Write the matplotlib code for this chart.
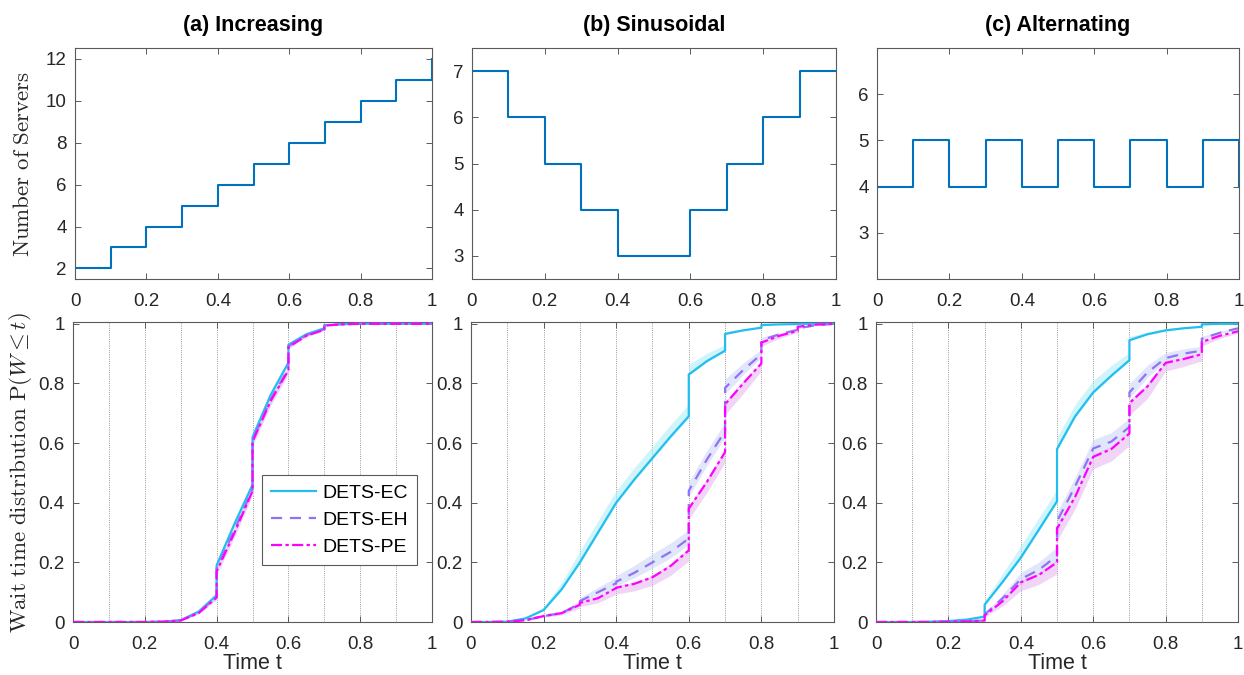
import numpy as np
import matplotlib
matplotlib.use("Agg")
import matplotlib.pyplot as plt
from matplotlib.ticker import FuncFormatter

plt.rcParams['font.family'] = ['Liberation Sans', 'DejaVu Sans']
plt.rcParams['mathtext.fontset'] = 'cm'

# server schedules (stairs, value held until next breakpoint)
stair_t = [0, 0.1, 0.2, 0.3, 0.4, 0.5, 0.6, 0.7, 0.8, 0.9, 1.0]
servers_inc = [2, 3, 4, 5, 6, 7, 8, 9, 10, 11, 12]
servers_sin = [7, 6, 5, 4, 3, 3, 4, 5, 6, 7, 7]
servers_alt = [4, 5, 4, 5, 4, 5, 4, 5, 4, 5, 4]

# time grid for the wait-time CDFs (repeated times = jump points)
t_grid = [0, .05, .1, .1, .15, .2, .2, .25, .3, .3, .35, .4, .4, .45, .5,
          .5, .55, .6, .6, .65, .7, .7, .75, .8, .8, .85, .9, .9, .95, 1.0]

# (a) Increasing
inc_ec = [0, 0, 0, 0, 0, 0, 0, 0.001, 0.006, 0.006, 0.035, 0.09, 0.19, 0.33, 0.46,
          0.62, 0.76, 0.87, 0.93, 0.965, 0.985, 0.995, 0.999, 1, 1, 1, 1, 1, 1, 1]
inc_eh = [0, 0, 0, 0, 0, 0, 0, 0.001, 0.005, 0.005, 0.032, 0.085, 0.18, 0.31, 0.445,
          0.61, 0.745, 0.85, 0.925, 0.962, 0.982, 0.995, 0.999, 1, 1, 1, 1, 1, 1, 1]
inc_pe = [0, 0, 0, 0, 0, 0, 0, 0.001, 0.005, 0.005, 0.03, 0.082, 0.17, 0.30, 0.44,
          0.605, 0.74, 0.845, 0.922, 0.96, 0.98, 0.994, 0.998, 1, 1, 1, 1, 1, 1, 1]

# (b) Sinusoidal
sin_ec = [0, 0, 0.001, 0.001, 0.012, 0.04, 0.04, 0.11, 0.2, 0.2, 0.3, 0.4, 0.4, 0.478, 0.55,
          0.55, 0.622, 0.69, 0.83, 0.875, 0.91, 0.966, 0.978, 0.987, 0.996, 0.998, 0.999, 1, 1, 1]
sin_eh = [0, 0, 0.001, 0.001, 0.006, 0.02, 0.02, 0.03, 0.062, 0.07, 0.1, 0.13, 0.135, 0.165, 0.2,
          0.2, 0.235, 0.28, 0.44, 0.545, 0.64, 0.785, 0.845, 0.898, 0.945, 0.965, 0.98, 0.985, 0.995, 1.0]
sin_pe = [0, 0, 0.001, 0.001, 0.006, 0.02, 0.02, 0.03, 0.058, 0.064, 0.08, 0.114, 0.115, 0.128, 0.15,
          0.15, 0.188, 0.24, 0.38, 0.47, 0.57, 0.73, 0.80, 0.867, 0.937, 0.96, 0.976, 0.99, 0.997, 1.0]

# (c) Alternating
alt_ec = [0, 0, 0, 0, 0.001, 0.003, 0.003, 0.008, 0.018, 0.058, 0.135, 0.216, 0.216, 0.31, 0.405,
          0.58, 0.69, 0.77, 0.77, 0.826, 0.878, 0.945, 0.965, 0.978, 0.978, 0.985, 0.99, 0.998, 1, 1]
alt_eh = [0, 0, 0, 0, 0, 0.001, 0.001, 0.002, 0.005, 0.025, 0.08, 0.144, 0.144, 0.175, 0.222,
          0.338, 0.455, 0.582, 0.582, 0.605, 0.654, 0.77, 0.837, 0.885, 0.885, 0.9, 0.91, 0.95, 0.97, 0.985]
alt_pe = [0, 0, 0, 0, 0, 0.001, 0.001, 0.002, 0.005, 0.022, 0.07, 0.133, 0.133, 0.158, 0.2,
          0.313, 0.42, 0.554, 0.554, 0.58, 0.632, 0.734, 0.79, 0.869, 0.869, 0.882, 0.898, 0.939, 0.96, 0.975]

# shaded band extent (below, above) for each method, per panel
bands = {
    'inc': [(0.01, 0.015), (0.012, 0.012), (0.015, 0.008)],
    'sin': [(0.005, 0.04), (0.02, 0.03), (0.035, 0.01)],
    'alt': [(0.005, 0.04), (0.02, 0.03), (0.04, 0.01)],
}

titles = ['(a) Increasing', '(b) Sinusoidal', '(c) Alternating']
methods = ['DETS-EC', 'DETS-EH', 'DETS-PE']
line_colors = ['#22BEF0', '#9470F5', '#FF00FF']
band_colors = ['#A8EEF8', '#C8D4F8', '#E4B4F0']
styles = ['-', (0, (5, 3.5)), (0, (5, 1.5, 1.5, 1.5))]

frame = '#5a5a5a'
txt = '#262626'
fmt = FuncFormatter(lambda v, p: '%g' % round(v, 3))

fig = plt.figure(figsize=(12.44, 6.75), dpi=100)
top_pos = [[0.0603, 0.5867, 0.287, 0.342],
           [0.3794, 0.5867, 0.2926, 0.342],
           [0.7050, 0.5867, 0.2910, 0.342]]
bot_pos = [[0.0587, 0.0785, 0.2886, 0.444],
           [0.3786, 0.0785, 0.2918, 0.444],
           [0.7042, 0.0785, 0.2910, 0.444]]


def style_axes(ax):
    for s in ax.spines.values():
        s.set_color(frame)
        s.set_linewidth(0.8)
    ax.tick_params(direction='in', length=4, width=0.7, color=frame,
                   labelsize=13.5, labelcolor=txt, top=True, right=True)
    ax.tick_params(axis='x', pad=10)
    ax.tick_params(axis='y', pad=6)
    ax.xaxis.set_major_formatter(fmt)
    ax.yaxis.set_major_formatter(fmt)


schedules = [servers_inc, servers_sin, servers_alt]
ylims = [(1.5, 12.5), (2.5, 7.5), (2, 7)]
yticks = [[2, 4, 6, 8, 10, 12], [3, 4, 5, 6, 7], [3, 4, 5, 6]]

for i in range(3):
    ax = fig.add_axes(top_pos[i])
    ax.plot(stair_t, schedules[i], drawstyle='steps-post', color='#0072BD', lw=1.5)
    ax.set_xlim(0, 1)
    ax.set_ylim(*ylims[i])
    ax.set_xticks(np.arange(0, 1.01, 0.2))
    ax.set_yticks(yticks[i])
    style_axes(ax)
    ax.set_title(titles[i], fontsize=15.5, fontweight='bold', color='black', pad=12)
    if i == 0:
        ax.set_ylabel(r'$\mathrm{Number\ of\ Servers}$', fontsize=16.5, color=txt)
        ax.yaxis.set_label_coords(-0.115, 0.5)

cdfs = [('inc', [inc_ec, inc_eh, inc_pe]),
        ('sin', [sin_ec, sin_eh, sin_pe]),
        ('alt', [alt_ec, alt_eh, alt_pe])]

t = np.array(t_grid)
for i, (key, series) in enumerate(cdfs):
    ax = fig.add_axes(bot_pos[i])
    for x in np.arange(0.1, 0.95, 0.1):
        ax.axvline(x, color='#777777', ls=':', lw=0.6, zorder=0)
    for j, y in enumerate(series):
        y = np.array(y)
        lo, hi = bands[key][j]
        taper = np.minimum(1, 6 * y * (1 - y))
        ax.fill_between(t, np.clip(y - lo * taper, 0, 1), np.clip(y + hi * taper, 0, 1),
                        color=band_colors[j], alpha=0.55, lw=0, zorder=1)
    for j, y in enumerate(series):
        ax.plot(t, y, color=line_colors[j], ls=styles[j], lw=1.6, label=methods[j], zorder=3)
    ax.set_xlim(0, 1)
    ax.set_ylim(0, 1.005)
    ax.set_xticks(np.arange(0, 1.01, 0.2))
    ax.set_yticks(np.arange(0, 1.01, 0.2))
    style_axes(ax)
    ax.set_xlabel('Time t', fontsize=15.5, color=txt, labelpad=0)
    if i == 0:
        ax.set_ylabel(r'$\mathrm{Wait\ time\ distribution\ P}(W \leq t)$', fontsize=16.5, color=txt)
        ax.yaxis.set_label_coords(-0.11, 0.5)
        leg = ax.legend(loc='upper right', bbox_to_anchor=(0.958, 0.49), borderaxespad=0,
                        fontsize=14, handlelength=2.3, fancybox=False,
                        framealpha=1, edgecolor=frame, borderpad=0.45, labelspacing=0.5,
                        handletextpad=0.35)
        leg.get_frame().set_linewidth(0.8)

fig.savefig('out.png', dpi=100)
